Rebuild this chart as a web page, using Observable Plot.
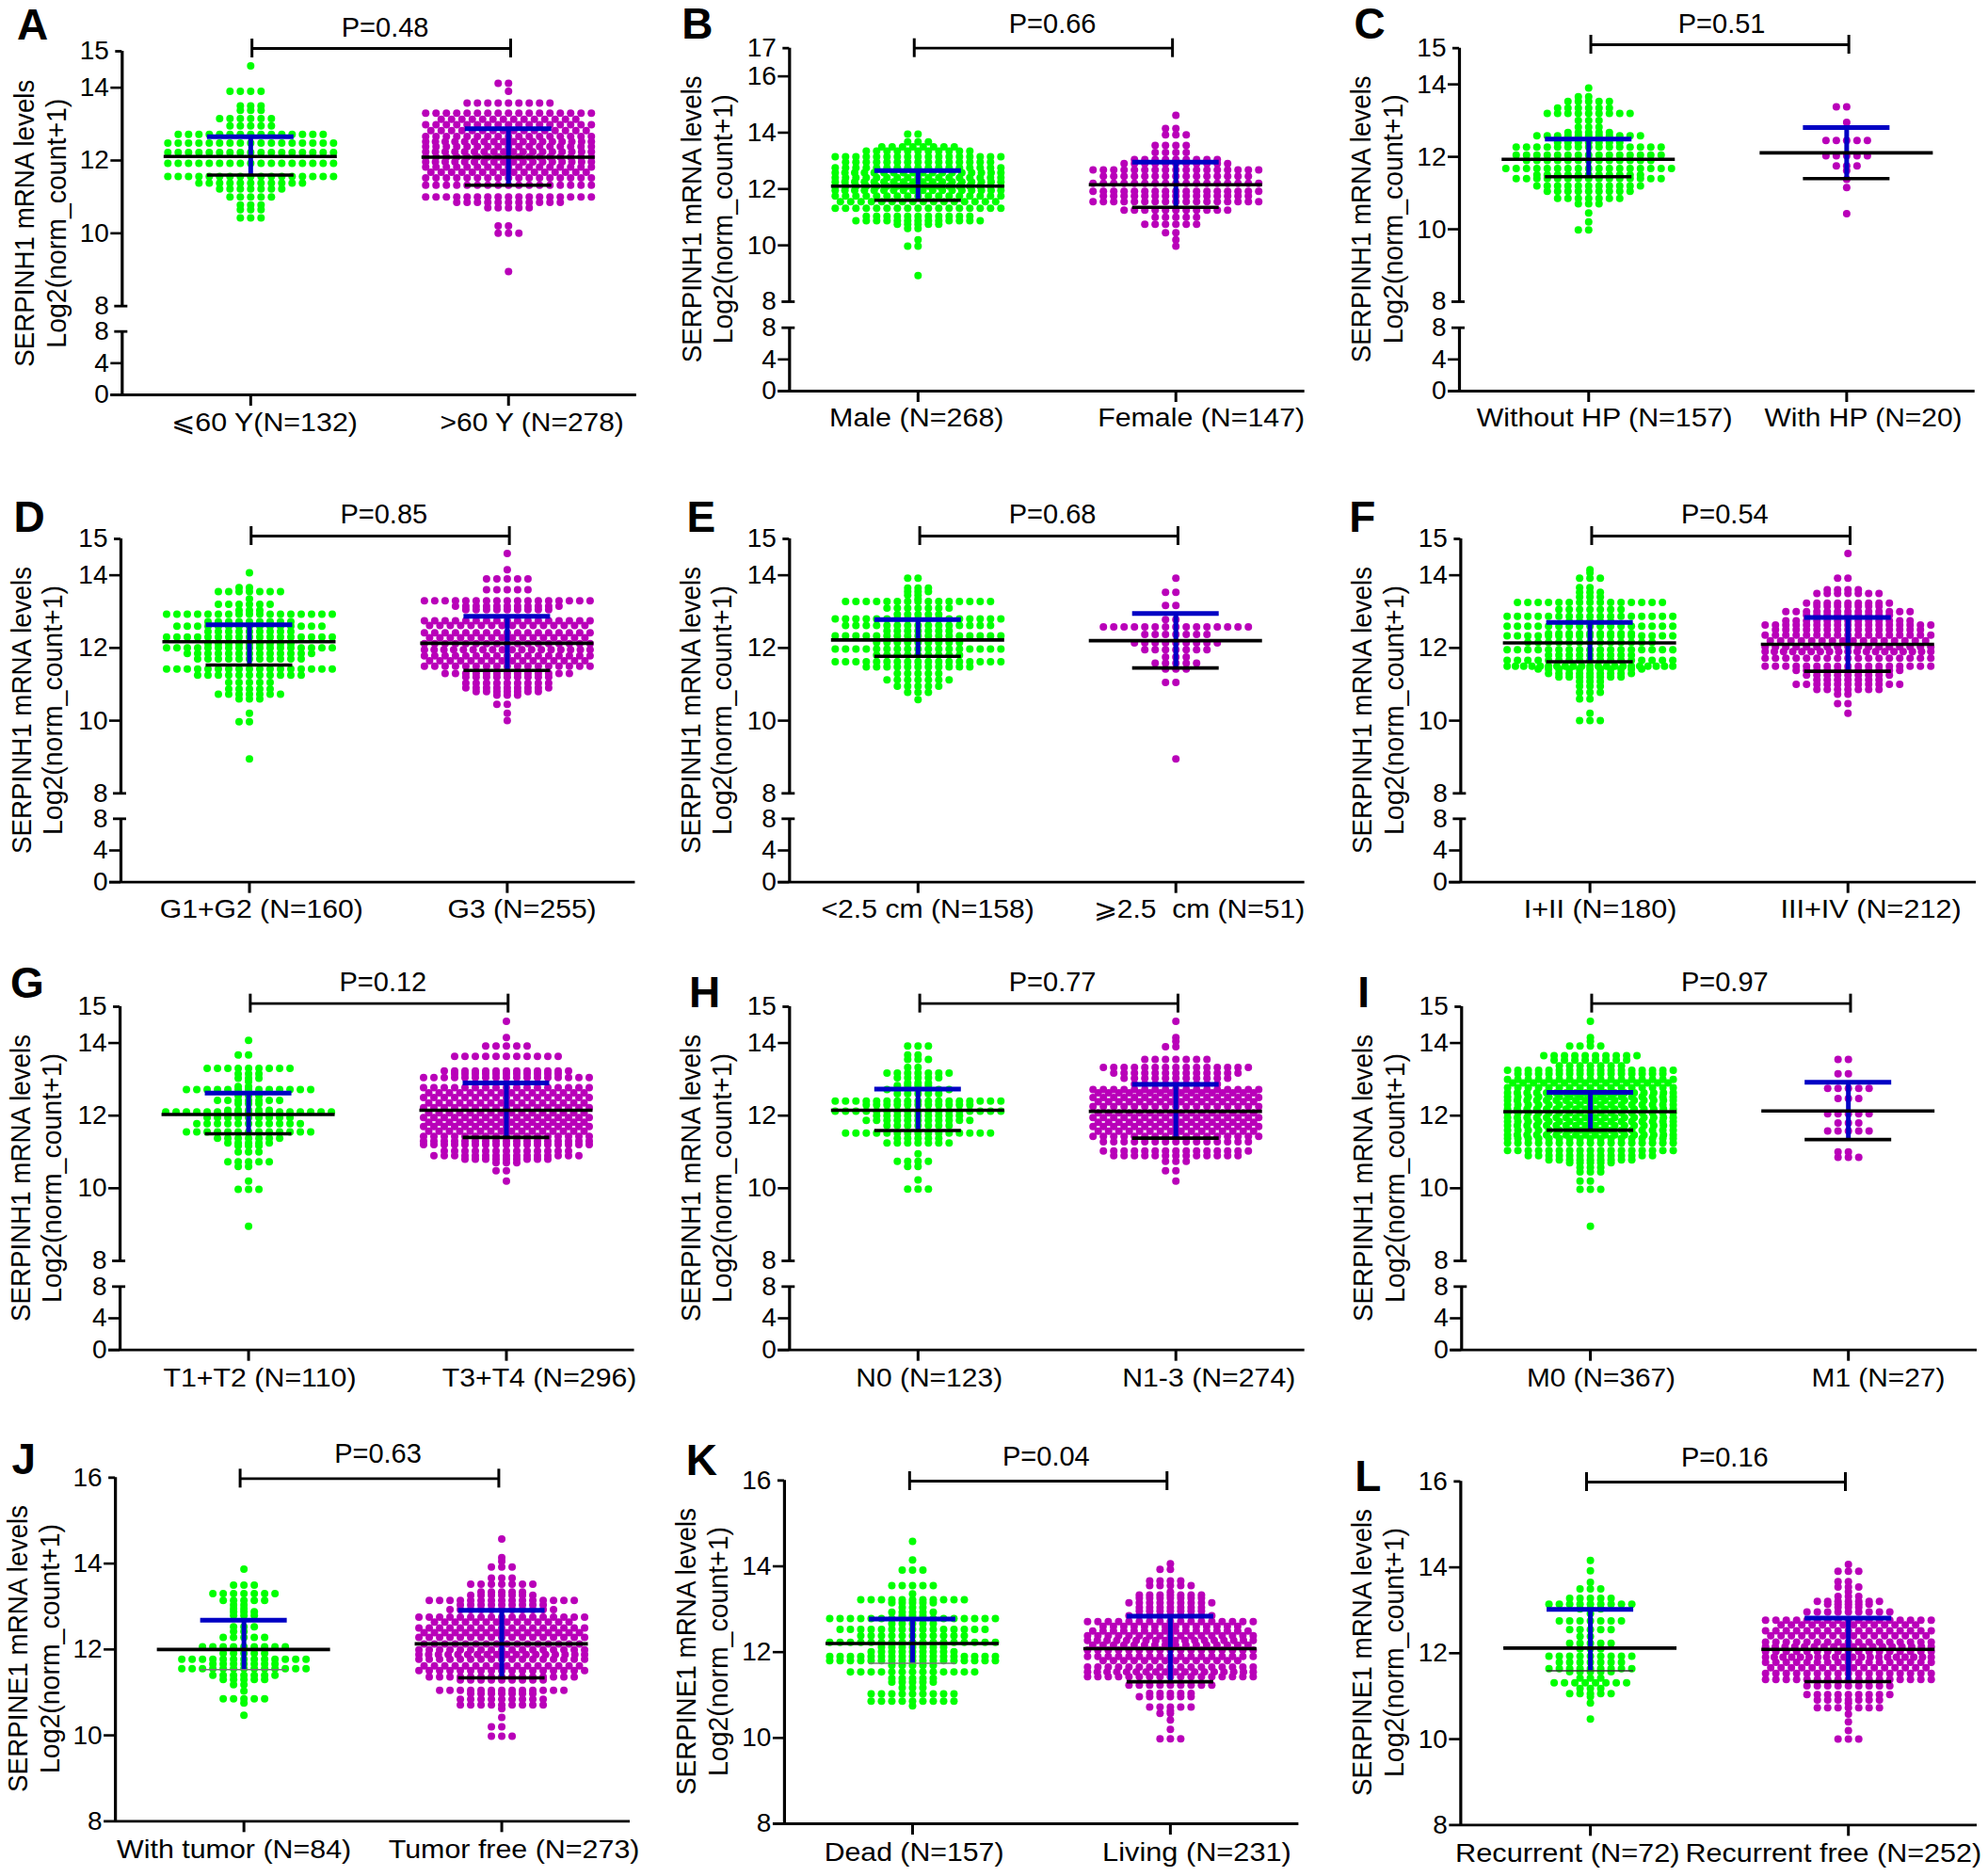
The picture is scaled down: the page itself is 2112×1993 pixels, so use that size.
<!DOCTYPE html>
<html>
<head>
<meta charset="utf-8">
<script src="https://cdn.jsdelivr.net/npm/d3@7"></script>
<script src="https://cdn.jsdelivr.net/npm/@observablehq/plot@0.6"></script>
<style>
html,body{margin:0;padding:0;background:#fff}
#page{position:relative;width:2112px;height:1993px;overflow:hidden}
#page svg{position:absolute;max-width:none;background:transparent;overflow:visible}
</style>
</head>
<body>
<div id="page"></div>
<script>
// ---------- values: rows of [log2 value, number of dots] ----------
const A_g=[[14.6,1],[13.9,4],[13.5,3],[13.38,3],[13.15,6],[12.95,5],[12.72,15],[12.48,17],[12.22,17],[11.92,17],[11.56,17],[11.38,11],[11.22,7],[11.0,5],[10.78,3],[10.65,3],[10.42,3]];
const A_m=[[14.12,2],[13.9,1],[13.58,9],[13.3,17],[13.13,14],[12.98,17],[12.82,16],[12.66,17],[12.52,18],[12.38,17],[12.24,18],[12.1,17],[11.96,18],[11.82,17],[11.68,16],[11.52,17],[11.32,17],[11.0,17],[10.85,11],[10.7,5],[10.2,2],[10.0,3],[8.95,1]];
const B_g=[[13.95,2],[13.67,3],[13.5,8],[13.35,11],[13.15,17],[12.95,15],[12.75,17],[12.58,18],[12.4,17],[12.25,18],[12.1,17],[11.95,18],[11.75,17],[11.55,16],[11.32,17],[11.03,11],[10.87,13],[10.75,5],[10.6,2],[10.2,1],[9.97,2],[8.93,1]];
const B_m=[[14.62,1],[14.15,2],[13.92,3],[13.55,4],[13.3,4],[13.05,9],[12.9,11],[12.68,17],[12.45,15],[12.2,17],[11.92,17],[11.75,15],[11.55,17],[11.25,11],[11.0,5],[10.75,6],[10.45,2],[10.2,1],[9.97,1]];
const C_g=[[13.9,1],[13.66,2],[13.53,5],[13.35,6],[13.2,9],[13.0,3],[12.82,3],[12.67,5],[12.58,11],[12.4,7],[12.27,15],[12.05,15],[11.9,13],[11.68,17],[11.5,11],[11.4,15],[11.2,11],[11.05,9],[10.85,7],[10.7,3],[10.45,1],[10.2,1],[9.98,2]];
const C_m=[[13.38,2],[12.95,1],[12.45,5],[12.03,5],[11.75,3],[11.62,1],[11.38,1],[11.15,1],[10.43,1]];
const D_g=[[14.07,1],[13.66,2],[13.55,7],[13.35,1],[13.2,6],[13.03,3],[12.93,17],[12.72,9],[12.6,15],[12.45,9],[12.3,17],[12.12,9],[12.0,17],[11.85,13],[11.7,11],[11.42,17],[11.25,11],[11.05,5],[10.87,5],[10.73,7],[10.6,3],[10.2,1],[9.97,2],[8.95,1]];
const D_m=[[14.6,1],[14.15,1],[13.9,5],[13.6,5],[13.3,17],[13.15,11],[13.05,9],[12.75,17],[12.62,16],[12.42,17],[12.28,16],[12.12,17],[11.95,18],[11.78,17],[11.65,16],[11.5,17],[11.3,13],[11.2,9],[11.03,9],[10.9,9],[10.8,7],[10.7,3],[10.45,2],[10.2,1],[10.0,1]];
const E_g=[[13.92,2],[13.65,3],[13.55,3],[13.45,2],[13.35,1],[13.28,15],[13.1,7],[12.92,5],[12.8,17],[12.62,15],[12.47,7],[12.33,17],[12.15,9],[11.97,17],[11.8,9],[11.62,17],[11.48,11],[11.3,5],[11.12,7],[10.95,5],[10.78,3],[10.58,1]];
const E_m=[[13.92,1],[13.53,2],[13.17,2],[12.78,2],[12.58,15],[12.37,7],[12.14,9],[11.95,7],[11.75,3],[11.58,5],[11.42,3],[11.05,2],[8.95,1]];
const F_g=[[14.15,1],[14.07,1],[13.92,3],[13.66,2],[13.53,3],[13.4,3],[13.25,15],[13.06,7],[12.87,17],[12.72,5],[12.6,17],[12.4,9],[12.33,17],[12.15,13],[11.95,17],[11.8,9],[11.66,17],[11.5,21],[11.42,11],[11.3,9],[11.2,7],[11.08,3],[10.95,3],[10.78,3],[10.6,2],[10.2,1],[10.0,3]];
const F_m=[[14.6,1],[13.92,2],[13.6,4],[13.5,7],[13.23,9],[13.15,7],[13.0,13],[12.9,9],[12.75,13],[12.63,17],[12.5,15],[12.35,17],[12.2,16],[12.03,17],[11.9,19],[11.72,17],[11.5,17],[11.38,11],[11.25,9],[11.12,7],[11.0,11],[10.86,7],[10.73,2],[10.47,2],[10.2,1]];
const G_g=[[14.07,1],[13.67,2],[13.3,9],[13.15,3],[13.03,3],[12.94,1],[12.8,2],[12.72,13],[12.55,3],[12.42,7],[12.33,3],[12.15,5],[12.1,17],[11.95,9],[11.78,11],[11.55,13],[11.38,7],[11.25,5],[11.17,3],[11.0,3],[10.73,5],[10.6,2],[10.2,1],[9.97,3],[8.95,1]];
const G_m=[[14.6,1],[14.15,1],[13.92,5],[13.63,11],[13.23,13],[13.15,11],[13.05,17],[12.77,17],[12.63,16],[12.5,17],[12.35,16],[12.22,17],[12.08,16],[11.95,17],[11.82,16],[11.7,17],[11.57,16],[11.43,17],[11.3,17],[11.2,17],[11.03,13],[10.9,15],[10.8,9],[10.7,3],[10.48,2],[10.2,1]];
const H_g=[[13.92,3],[13.67,2],[13.55,3],[13.33,2],[13.17,7],[13.04,5],[12.9,3],[12.83,4],[12.72,7],[12.6,5],[12.4,17],[12.3,11],[12.12,17],[12.0,9],[11.87,11],[11.73,7],[11.52,15],[11.38,5],[11.25,7],[10.95,1],[10.74,4],[10.6,2],[10.23,1],[9.98,3]];
const H_m=[[14.6,1],[14.15,1],[14.05,1],[13.9,2],[13.55,7],[13.33,15],[13.17,13],[13.03,11],[12.87,9],[12.72,17],[12.63,16],[12.5,17],[12.38,16],[12.25,17],[12.08,16],[11.95,17],[11.82,16],[11.7,17],[11.57,16],[11.43,17],[11.28,15],[11.03,15],[10.9,13],[10.74,3],[10.48,2],[10.2,1]];
const I_g=[[14.6,1],[14.15,1],[14.05,1],[13.92,4],[13.65,10],[13.53,8],[13.37,7],[13.25,17],[13.15,15],[13.0,17],[12.9,16],[12.77,17],[12.63,18],[12.52,17],[12.42,18],[12.3,17],[12.18,18],[12.08,17],[11.95,18],[11.84,17],[11.73,18],[11.6,17],[11.47,18],[11.37,17],[11.25,17],[11.04,17],[10.9,13],[10.78,9],[10.7,5],[10.57,3],[10.45,3],[10.2,2],[9.97,3],[8.95,1]];
const I_m=[[13.55,2],[13.15,2],[12.75,5],[12.47,3],[12.05,5],[11.8,3],[11.58,5],[11.0,2],[10.85,3]];
const J_g=[[13.87,1],[13.5,3],[13.3,7],[13.14,5],[13.04,2],[12.95,2],[12.88,3],[12.79,3],[12.53,3],[12.42,2],[12.28,5],[12.06,9],[11.91,5],[11.77,13],[11.66,7],[11.55,13],[11.4,7],[11.3,5],[11.18,2],[11.03,1],[10.85,5],[10.75,1],[10.47,1]];
const J_m=[[14.57,1],[14.14,1],[14.05,1],[13.92,3],[13.66,3],[13.52,7],[13.34,5],[13.26,7],[13.14,15],[13.04,9],[12.93,11],[12.75,17],[12.64,14],[12.5,17],[12.39,16],[12.28,17],[12.13,16],[11.99,17],[11.88,18],[11.77,17],[11.62,16],[11.51,17],[11.36,15],[11.29,9],[11.05,13],[10.97,7],[10.84,9],[10.71,9],[10.62,1],[10.42,1],[10.2,2],[9.98,3]];
const K_g=[[14.58,1],[14.15,1],[13.91,3],[13.55,5],[13.36,1],[13.22,11],[13.15,5],[13.04,3],[12.93,5],[12.85,3],[12.78,17],[12.66,5],[12.53,15],[12.38,11],[12.23,17],[12.12,7],[12.01,9],[11.9,17],[11.8,17],[11.69,5],[11.54,13],[11.39,5],[11.3,5],[11.17,3],[11.03,9],[10.86,9],[10.75,1]];
const K_m=[[14.06,1],[13.93,2],[13.66,4],[13.55,5],[13.4,1],[13.33,7],[13.26,7],[13.15,9],[13.04,7],[12.96,7],[12.85,9],[12.71,17],[12.6,14],[12.49,16],[12.38,17],[12.27,18],[12.16,16],[12.05,17],[11.9,17],[11.8,14],[11.65,17],[11.54,18],[11.43,17],[11.23,9],[11.04,5],[10.96,6],[10.72,5],[10.63,1],[10.57,2],[10.42,1],[10.2,1],[9.98,3]];
const L_g=[[14.16,1],[13.92,1],[13.65,1],[13.5,3],[13.28,5],[13.14,9],[13.03,3],[12.92,1],[12.75,7],[12.55,5],[12.39,2],[12.23,5],[12.1,3],[11.93,9],[11.79,7],[11.64,9],[11.57,5],[11.42,3],[11.31,8],[11.18,3],[11.06,5],[10.99,1],[10.84,1],[10.47,1]];
const L_m=[[14.07,1],[13.91,3],[13.67,2],[13.54,3],[13.43,1],[13.32,3],[13.21,7],[13.14,5],[13.07,3],[12.96,9],[12.77,17],[12.66,14],[12.52,17],[12.41,16],[12.26,17],[12.15,18],[12.04,17],[11.91,20],[11.79,17],[11.66,16],[11.53,17],[11.39,17],[11.24,9],[11.04,9],[10.91,7],[10.84,1],[10.73,7],[10.58,1],[10.4,1],[10.2,1],[10.0,3]];

// [mean, upper SD, lower SD] for the two groups of each panel
const A_s=[[12.11,12.65,11.6],[12.09,12.87,11.32]];
const B_s=[[12.1,12.65,11.6],[12.15,12.95,11.35]];
const C_s=[[11.93,12.49,11.45],[12.11,12.81,11.4]];
const D_s=[[12.17,12.64,11.53],[12.13,12.87,11.38]];
const E_s=[[12.22,12.78,11.77],[12.2,12.95,11.45]];
const F_s=[[12.14,12.7,11.62],[12.1,12.84,11.36]];
const G_s=[[12.03,12.62,11.5],[12.15,12.9,11.4]];
const H_s=[[12.15,12.73,11.59],[12.12,12.86,11.38]];
const I_s=[[12.11,12.64,11.6],[12.13,12.92,11.34]];
const J_s=[[12.0,12.68,11.53],[12.13,12.91,11.34]];
const K_s=[[12.2,12.77,11.74],[12.08,12.84,11.31]];
const L_s=[[12.12,13.02,11.59],[12.09,12.82,11.34]];

const letters=["A","B","C","D","E","F","G","H","I","J","K","L"];
const pValues=["P=0.48","P=0.66","P=0.51","P=0.85","P=0.68","P=0.54","P=0.12","P=0.77","P=0.97","P=0.63","P=0.04","P=0.16"];
const groupLabels=[["⩽60 Y(N=132)",">60 Y (N=278)"],["Male (N=268)","Female (N=147)"],["Without HP (N=157)","With HP (N=20)"],["G1+G2 (N=160)","G3 (N=255)"],["<2.5 cm (N=158)","⩾2.5  cm (N=51)"],["I+II (N=180)","III+IV (N=212)"],["T1+T2 (N=110)","T3+T4 (N=296)"],["N0 (N=123)","N1-3 (N=274)"],["M0 (N=367)","M1 (N=27)"],["With tumor (N=84)","Tumor free (N=273)"],["Dead (N=157)","Living (N=231)"],["Recurrent (N=72)","Recurrent free (N=252)"]];
const genes=["SERPINH1","SERPINH1","SERPINH1","SERPINH1","SERPINH1","SERPINH1","SERPINH1","SERPINH1","SERPINH1","SERPINE1","SERPINE1","SERPINE1"];
const rows=[[A_g,A_m],[B_g,B_m],[C_g,C_m],[D_g,D_m],[E_g,E_m],[F_g,F_m],[G_g,G_m],[H_g,H_m],[I_g,I_m],[J_g,J_m],[K_g,K_m],[L_g,L_m]];
const stats=[A_s,B_s,C_s,D_s,E_s,F_s,G_s,H_s,I_s,J_s,K_s,L_s];

// ---------- layout, measured in each cell's crop ----------
const ZY=3;
const cells=[[0,0,700,510,2.227],[700,0,700,510,2.227],[1400,0,712,510,2.2],[0,510,700,495,2.227],[700,510,700,495,2.227],[1400,510,712,495,2.2],[0,1005,700,495,2.227],[700,1005,700,495,2.227],[1400,1005,712,495,2.2],[0,1500,700,493,2.227],[700,1500,700,493,2.227],[1400,1500,712,493,2.2]];
const geo=[
{ax:288,top:15,yTop:162,y8:974,l8:1055,l0:1257,c:[592,1202],end:1505,br:[153,595,1207],p:[910,88],ly:1345,ls:[[405,845],[1040,1475]],t:[57,133,710],let:[76,79]},
{ax:308,top:17,yTop:152,y8:960,l8:1043,l0:1245,c:[612,1222],end:1527,br:[152,603,1214],p:[930,75],ly:1332,ls:[[402,815],[1037,1527]],t:[77,152,697],let:[90,78]},
{ax:330,top:15,yTop:152,y8:960,l8:1043,l0:1245,c:[632,1235],end:1535,br:[141,637,1240],p:[943,75],ly:1332,ls:[[370,968],[1043,1505]],t:[100,175,697],let:[120,78]},
{ax:285,top:15,yTop:186,y8:997,l8:1078,l0:1280,c:[589,1199],end:1502,br:[177,593,1204],p:[907,110],ly:1368,ls:[[377,858],[1058,1410]],t:[50,125,732],let:[68,120]},
{ax:308,top:15,yTop:186,y8:997,l8:1078,l0:1280,c:[612,1222],end:1527,br:[177,616,1227],p:[930,110],ly:1368,ls:[[383,887],[1028,1527]],t:[75,150,732],let:[99,120]},
{ax:333,top:15,yTop:186,y8:997,l8:1078,l0:1280,c:[635,1238],end:1538,br:[177,639,1243],p:[950,110],ly:1368,ls:[[480,838],[1080,1503]],t:[103,178,732],let:[103,118]},
{ax:283,top:15,yTop:192,y8:1002,l8:1084,l0:1286,c:[587,1197],end:1500,br:[182,591,1201],p:[905,115],ly:1375,ls:[[385,842],[1045,1505]],t:[48,123,738],let:[63,118]},
{ax:308,top:15,yTop:192,y8:1002,l8:1084,l0:1286,c:[612,1222],end:1527,br:[182,616,1227],p:[930,115],ly:1375,ls:[[465,812],[1095,1505]],t:[75,150,738],let:[107,150]},
{ax:335,top:15,yTop:192,y8:1002,l8:1084,l0:1286,c:[636,1239],end:1540,br:[182,639,1244],p:[950,115],ly:1375,ls:[[487,835],[1153,1465]],t:[105,180,738],let:[106,148]},
{ax:272,top:16,yTop:208,y8:1303,c:[576,1186],end:1490,br:[211,567,1179],p:[893,133],ly:1393,ls:[[275,830],[918,1512]],t:[42,117,753],let:[55,152],thin:"#777"},
{ax:296,top:16,yTop:217,y8:1311,c:[599,1209],end:1513,br:[219,592,1201],p:[915,141],ly:1402,ls:[[390,815],[1048,1495]],t:[65,140,762],let:[100,154],thin:"#777"},
{ax:333,top:16,yTop:220,y8:1315,c:[636,1239],end:1540,br:[222,627,1232],p:[950,144],ly:1405,ls:[[320,845],[858,1550]],t:[103,178,765],let:[116,205],thin:"#333"}
];
const SANS='"Liberation Sans",Arial,sans-serif';
const GREEN="#00ff00",MAGENTA="#b900b9",BLUE="#0000c4";
const COL=11,MAXCOL=17;

// Beeswarm row layout: dots of a row spread from the category centre
function swarm(rowsOfGroup,g,unit){
  const out=[];
  for(const [v,n] of rowsOfGroup){
    let offs=[];
    if(n>MAXCOL){const s=COL*(MAXCOL-1)/(n-1);for(let k=0;k<n;k++)offs.push((k-(n-1)/2)*s);}
    else if(n%2===1||n>=8){for(let k=0;k<n;k++)offs.push((k-(n-1)/2)*COL);}
    else{for(let k=0;k<n;k++){const c=k===0?0:(k%2===1?-(k+1)/2:k/2);offs.push(c*COL);}}
    for(const o of offs)out.push({x:g+o*unit,y:v,g});
  }
  return out;
}

const page=document.getElementById("page");
letters.forEach((letter,i)=>{
  const [ox,oy,w,h,ZX]=cells[i],G=geo[i];
  const PX=v=>v/ZX,PY=v=>v/ZY;
  const ax=PX(G.ax),c1=PX(G.c[0]),c2=PX(G.c[1]),unit=1/(c2-c1);
  const xAt=px=>(px-c1)*unit;
  const broken=G.l0!==undefined;
  const yDomain=broken?[0,8,8.0001,G.top]:[8,G.top];
  const yRange=broken?[PY(G.l0),PY(G.l8),PY(G.y8),PY(G.yTop)]:[PY(G.y8),PY(G.yTop)];
  const perUnit=(PY(G.y8)-PY(G.yTop))/(G.top-8);
  const yAt=px=>G.top+(PY(G.yTop)-px)/perUnit;
  const bottom=broken?PY(G.l0):PY(G.y8);
  const dots=[...swarm(rows[i][0],0,unit),...swarm(rows[i][1],1,unit)];
  const st=stats[i].map(([mean,hi,lo],g)=>({g,mean,hi,lo}));
  const regular=broken?(G.top===17?[0,4,10,12,14,16]:[0,4,10,12,14]):[10,12,14];
  const ticksAll=broken?[...regular,8,8.0001,G.top]:[8,...regular,G.top];
  const hw=92*unit,cw=46*unit;
  const thinStroke=d=>(G.thin&&d.g===0)?G.thin:"#000";
  const thinW=d=>(G.thin&&d.g===0)?1.5:3.6;
  const [by,bx1,bx2]=G.br;
  const bracketY=yAt(PY(by)),bracketTop=yAt(PY(by)-10),bracketBot=yAt(PY(by)+10);
  const textAt=(str,xpx,ypx,opts)=>Plot.text([str],{x:()=>xAt(xpx),frameAnchor:"top",lineAnchor:"middle",dy:ypx,fill:"#000",fontFamily:SANS,...opts});
  const marks=[
    Plot.dot(dots,{x:"x",y:"y",r:4,fill:d=>d.g===0?GREEN:MAGENTA,stroke:"none"}),
    Plot.ruleX(st,{x:"g",y1:"lo",y2:"hi",stroke:BLUE,strokeWidth:5}),
    Plot.ruleY(st,{y:"hi",x1:d=>d.g-cw,x2:d=>d.g+cw,stroke:BLUE,strokeWidth:5}),
    Plot.ruleY(st,{y:"mean",x1:d=>d.g-hw,x2:d=>d.g+hw,stroke:"#000",strokeWidth:3.6}),
    Plot.ruleY(st,{y:"lo",x1:d=>d.g-cw,x2:d=>d.g+cw,stroke:thinStroke,strokeWidth:thinW}),
    // axes
    Plot.axisY(ticksAll,{anchor:"left",tickSize:0,tickPadding:14,tickFormat:d=>String(Math.round(d)),fontSize:28,fontFamily:SANS,fill:"#000",label:null}),
    Plot.ruleX([xAt(ax)],{y1:broken?0:8,y2:broken?8:G.top,stroke:"#000",strokeWidth:3.2}),
    ...(broken?[Plot.ruleX([xAt(ax)],{y1:8.0001,y2:G.top,stroke:"#000",strokeWidth:3.2})]:[]),
    Plot.ruleY(regular,{x1:xAt(ax-12),x2:xAt(ax),stroke:"#000",strokeWidth:2.6}),
    Plot.ruleY([G.top],{x1:xAt(ax-7),x2:xAt(ax),stroke:"#000",strokeWidth:2.8}),
    ...(broken?[Plot.ruleY([8,8.0001],{x1:xAt(ax-8),x2:xAt(ax+6),stroke:"#000",strokeWidth:2.8})]:[]),
    Plot.ruleY([broken?0:8],{x1:xAt(ax-12),x2:xAt(PX(G.end)),stroke:"#000",strokeWidth:2.8}),
    Plot.axisX([0,1],{anchor:"bottom",tickSize:12,tickFormat:()=>"",strokeWidth:3,label:null}),
    // bracket
    Plot.ruleY([bracketY],{x1:xAt(PX(bx1)),x2:xAt(PX(bx2)),stroke:"#000",strokeWidth:2.8}),
    Plot.ruleX([xAt(PX(bx1)),xAt(PX(bx2))],{y1:bracketBot,y2:bracketTop,stroke:"#000",strokeWidth:3}),
    // texts
    textAt(pValues[i],PX(G.p[0]),PY(G.p[1]),{fontSize:29}),
    textAt(letter,PX(G.let[0]),PY(G.let[1]),{fontSize:46,fontWeight:"bold"}),
    textAt(groupLabels[i][0],PX((G.ls[0][0]+G.ls[0][1])/2),PY(G.ly),{fontSize:28}),
    textAt(groupLabels[i][1],PX((G.ls[1][0]+G.ls[1][1])/2),PY(G.ly),{fontSize:28}),
    textAt(genes[i]+" mRNA levels",PX(G.t[0]),PY(G.t[2]),{rotate:-90,fontSize:30}),
    textAt("Log2(norm_count+1)",PX(G.t[1]),PY(G.t[2]),{rotate:-90,fontSize:30})
  ];
  const svg=Plot.plot({
    width:w,height:h,marginLeft:ax,marginTop:0,marginRight:0,marginBottom:h-bottom,
    style:{background:"transparent",fontFamily:SANS,color:"#000"},
    x:{type:"linear",domain:[0,1],range:[c1,c2],axis:null,label:null},
    y:{type:"linear",domain:yDomain,range:yRange,axis:null,label:null},
    marks
  });
  svg.style.left=ox+"px";svg.style.top=oy+"px";
  // fit the stretched strings to the lengths measured in the reference
  const lengths=new Map([
    [genes[i]+" mRNA levels",305],["Log2(norm_count+1)",265],
    [groupLabels[i][0],PX(G.ls[0][1]-G.ls[0][0])],[groupLabels[i][1],PX(G.ls[1][1]-G.ls[1][0])]
  ]);
  svg.querySelectorAll("text").forEach(t=>{
    const L=lengths.get(t.textContent);
    if(L){t.setAttribute("textLength",L);t.setAttribute("lengthAdjust","spacingAndGlyphs");}
  });
  page.appendChild(svg);
});
</script>
</body>
</html>
